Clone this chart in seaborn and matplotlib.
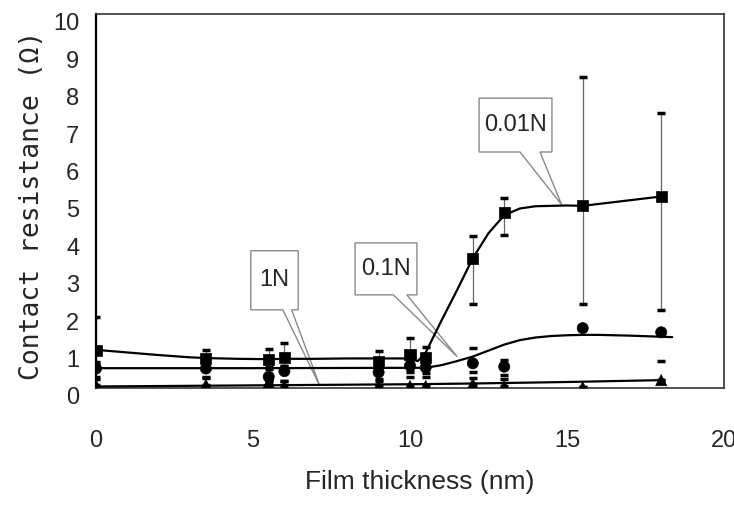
import numpy as np
import pandas as pd
import matplotlib
matplotlib.use("Agg")
import matplotlib.pyplot as plt
import matplotlib.transforms as mtrans
from matplotlib import font_manager
from matplotlib.patches import Polygon
import seaborn as sns

# measured points (film thickness in nm)
thickness = [0, 3.5, 5.5, 6, 9, 10, 10.5, 12, 13, 15.5, 18]

r_001 = [1.0, 0.78, 0.76, 0.82, 0.7, 0.9, 0.82, 3.47, 4.69, 4.87, 5.12]
r_001_hi = [1.91, 1.02, 1.04, 1.2, 0.99, 1.35, 1.09, 4.07, 5.09, 8.32, 7.34]
r_001_lo = [0.7, 0.55, 0.55, 0.6, 0.45, 0.5, 0.6, 2.24, 4.09, 2.25, 2.09]

r_01 = [0.52, 0.52, 0.3, 0.45, 0.42, 0.6, 0.55, 0.66, 0.57, 1.6, 1.49]
r_01_hi = [0.65, 0.7, 0.5, 0.6, 0.62, 0.75, 0.7, 1.06, 0.75, 1.6, 1.49]
r_01_lo = [0.3, 0.3, 0.22, 0.2, 0.2, 0.42, 0.4, 0.44, 0.35, 1.6, 0.73]

r_1 = [0.08, 0.08, 0.15, 0.05, 0.05, 0.05, 0.05, 0.11, 0.05, 0.02, 0.21]
r_1_hi = [0.25, 0.27, 0.25, 0.2, 0.25, 0.3, 0.3, 0.28, 0.25, 0.02, 0.21]

# smoothed guide lines
curve_001_x = [0, 1, 2, 3, 3.5, 4.5, 5.5, 6, 7, 8, 9, 9.75, 10, 10.25, 10.5, 11, 11.5,
               12, 12.5, 13, 13.5, 14, 15, 15.5, 16.5, 17.5, 18]
curve_001_y = [1.02, 0.95, 0.88, 0.82, 0.8, 0.78, 0.77, 0.78, 0.78, 0.79, 0.79, 0.79, 0.78,
               0.72, 0.95, 1.8, 2.62, 3.47, 4.14, 4.62, 4.8, 4.86, 4.88, 4.87, 4.97, 5.07, 5.12]
curve_01_x = [0, 5, 10.5, 11, 11.5, 12, 12.5, 13, 13.5, 14, 14.5, 15, 15.5, 16, 17, 18, 18.35]
curve_01_y = [0.53, 0.53, 0.54, 0.61, 0.72, 0.84, 1.0, 1.16, 1.28, 1.35, 1.39, 1.41, 1.42,
              1.42, 1.40, 1.37, 1.36]
curve_1_x = [0, 5, 10, 12, 15, 18]
curve_1_y = [0.04, 0.07, 0.1, 0.12, 0.16, 0.21]

names = {f.name for f in font_manager.fontManager.ttflist}
narrow = "Liberation Sans Narrow" if "Liberation Sans Narrow" in names else "Liberation Sans"

sns.set_style("white")
plt.rcParams["font.family"] = [narrow, "DejaVu Sans"]

fig = plt.figure(figsize=(7.34, 5.05), dpi=100)
ax = fig.add_axes([0.1308, 0.2317, 0.8556, 0.7406])

# guide lines
sns.lineplot(x=curve_001_x, y=curve_001_y, ax=ax, color="black", lw=1.6, sort=False, zorder=3)
sns.lineplot(x=curve_01_x, y=curve_01_y, ax=ax, color="black", lw=1.6, sort=False, zorder=3)
sns.lineplot(x=curve_1_x, y=curve_1_y, ax=ax, color="black", lw=1.6, sort=False, zorder=3)

# error bars: thin grey stems with short heavy black caps
def caps(y, lo, hi, stem):
    err = [np.array(y) - np.array(lo), np.array(hi) - np.array(y)]
    if stem:
        ax.errorbar(thickness, y, yerr=err, fmt="none", ecolor="#666666",
                    elinewidth=0.9, capsize=0, zorder=2)
    ax.errorbar(thickness, y, yerr=err, fmt="none", ecolor="black", elinewidth=0,
                capsize=3, capthick=2.5, zorder=2)

caps(r_001, r_001_lo, r_001_hi, True)
caps(r_01, r_01_lo, r_01_hi, False)
caps(r_1, r_1, r_1_hi, False)

# markers
pts = pd.DataFrame({"x": thickness * 3, "y": r_001 + r_01 + r_1,
                    "load": ["0.01N"] * 11 + ["0.1N"] * 11 + ["1N"] * 11})
sns.scatterplot(data=pts, x="x", y="y", style="load",
                markers={"0.01N": "s", "0.1N": "o", "1N": "^"},
                color="black", s=64, edgecolor="black", linewidth=0.5,
                legend=False, ax=ax, zorder=4)

# callout boxes
def callout(text, box, base, tip):
    x0, x1, y0, y1 = box
    verts = [(x0, y1), (x1, y1), (x1, y0), (base[1], y0), tip, (base[0], y0), (x0, y0)]
    ax.add_patch(Polygon(verts, closed=True, facecolor="white", edgecolor="#8a8a8a",
                         lw=1.0, zorder=1))
    ax.text((x0 + x1) / 2, (y0 + y1) / 2, text, ha="center", va="center",
            fontsize=17, zorder=1.5)

callout("0.01N", (12.2, 14.52, 6.31, 7.75), (13.5, 14.14), (14.83, 4.9))
callout("0.1N", (8.25, 10.22, 2.49, 3.88), (9.47, 9.9), (11.5, 0.84))
callout("1N", (4.93, 6.44, 2.09, 3.67), (5.95, 6.23), (7.13, 0.05))

ax.set_xlim(0, 20)
ax.set_ylim(0, 10)
ax.set_xticks([0, 5, 10, 15, 20])
ax.set_yticks(range(0, 11))
ax.tick_params(axis="both", direction="in", length=6, width=1, color="#888888",
               labelsize=17)
ax.tick_params(axis="x", pad=30)
ax.tick_params(axis="y", pad=12)
shift = mtrans.ScaledTranslation(0, -8 / 100, fig.dpi_scale_trans)
for lab in ax.get_yticklabels():
    lab.set_transform(lab.get_transform() + shift)

for sp in ax.spines.values():
    sp.set_color("#333333")
    sp.set_linewidth(1.2)
ax.spines["left"].set_color("black")
ax.spines["left"].set_linewidth(1.6)

ax.set_xlabel("Film thickness (nm)", fontsize=19, va="center")
ax.xaxis.set_label_coords(0.516, -0.251)
ax.set_ylabel("Contact resistance (\u03a9)", fontsize=19, va="center",
              family=["DejaVu Sans Mono"])
ax.yaxis.set_label_coords(-0.102, 0.487)

fig.savefig("out.png", dpi=100)
